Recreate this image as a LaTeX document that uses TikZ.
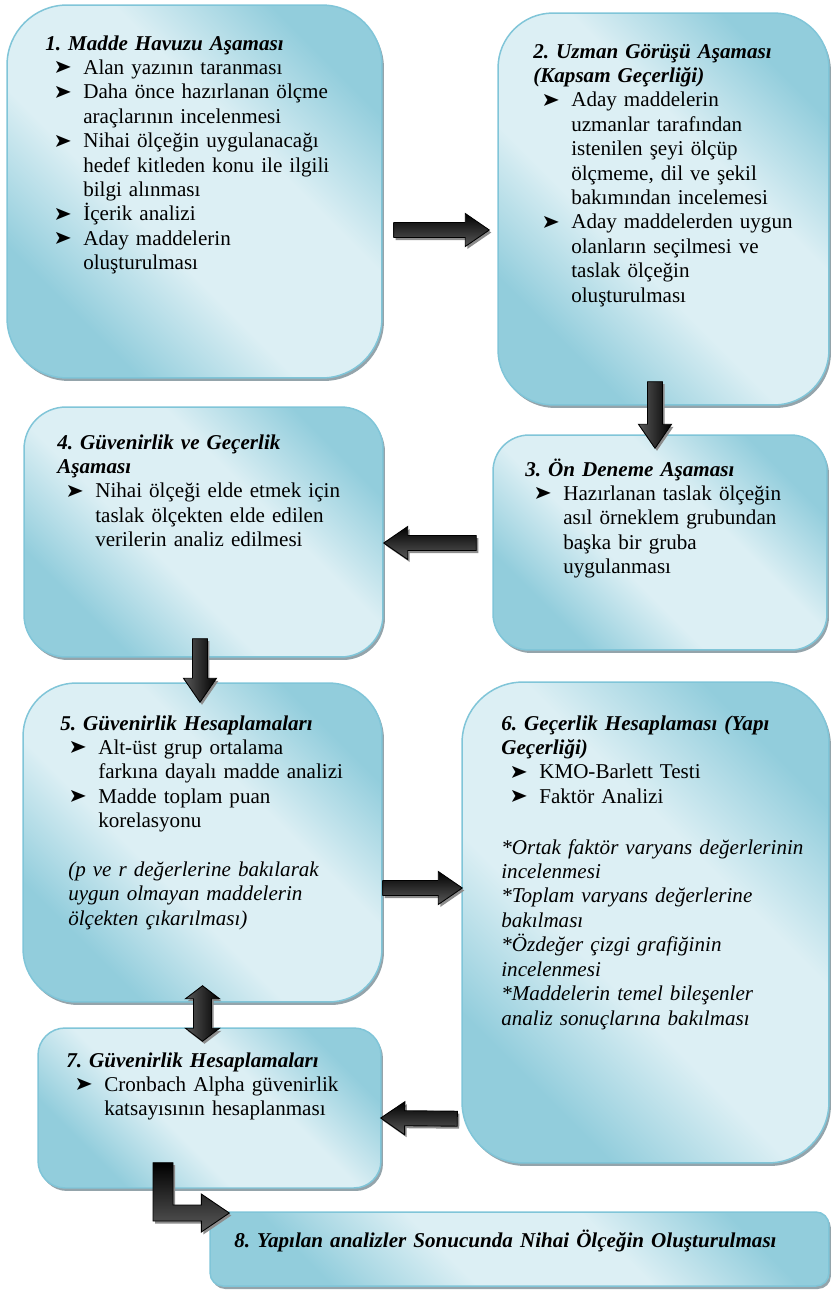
\documentclass[tikz,border=0pt]{standalone}
\usepackage{fontspec}
\setmainfont{Liberation Serif}
\usepackage{pifont}
\usepackage{xcolor}
\usepackage{tikz}
\usetikzlibrary{shadows}
\usetikzlibrary{calc}
\definecolor{box_dark}{RGB}{146,205,220}
\definecolor{box_light}{RGB}{220,239,244}
\definecolor{box_line}{RGB}{128,197,216}
\definecolor{shadow_gray}{RGB}{148,164,171}
\pgfdeclareverticalshading{stageshade}{100bp}{color(0bp)=(box_dark); color(27bp)=(box_dark);
  color(42bp)=(box_light); color(60bp)=(box_light); color(75bp)=(box_dark); color(100bp)=(box_dark)}
\frenchspacing
\newcommand{\itm}{\hspace*{5.7pt}\makebox[15.9pt][l]{\raisebox{0.3pt}{\fontsize{10}{10}\selectfont\ding{228}}}}
\newcommand{\cnt}{\hspace*{21.6pt}}
% straight block arrow: [shading angle]{start}{tip}
\newcommand{\fatarrow}[3][0]{%
  \coordinate (fa-s) at #2;
  \coordinate (fa-e) at #3;
  \coordinate (fa-h) at ($(fa-e)!0.48cm!(fa-s)$);
  \path[blockarrow, shading angle=#1]
    ($(fa-s)!0.15cm!90:(fa-e)$) -- ($(fa-h)!0.15cm!90:(fa-e)$)
    -- ($(fa-h)!0.33cm!90:(fa-e)$) -- (fa-e)
    -- ($(fa-h)!0.33cm!-90:(fa-e)$) -- ($(fa-h)!0.15cm!-90:(fa-e)$)
    -- ($(fa-s)!0.15cm!-90:(fa-e)$) -- cycle;
}
\tikzset{
  stage/.style={draw=box_line, line width=0.85pt, inner sep=0pt,
    shade, shading=stageshade, shading angle=-45,
    drop shadow={shadow xshift=0.04cm, shadow yshift=-0.06cm, fill=shadow_gray, opacity=1}},
  stagetext/.style={anchor=base west, inner sep=0pt, text width=7.2cm, align=left,
    font=\fontsize{12}{13.9}\selectfont},
  blockarrow/.style={draw=black, line width=0.5pt, top color=black, bottom color=black!65!white,
    drop shadow={shadow xshift=0.04cm, shadow yshift=-0.05cm, fill=black!45, opacity=1}},
}

\begin{document}
\begin{tikzpicture}[x=0.02cm, y=-0.02cm]
        \useasboundingbox (0,0) rectangle (833,1292);
        % Stage boxes
        \node[stage, rounded corners=1.2cm, minimum width=7.5cm, minimum height=7.46cm] (b1) at (194.5,191.5) {};
        \node[stage, rounded corners=1.1cm, minimum width=6.62cm, minimum height=7.84cm] (b2) at (663.5,209) {};
        \node[stage, rounded corners=0.72cm, minimum width=6.68cm, minimum height=4.3cm] (b3) at (660,542.5) {};
        \node[stage, rounded corners=0.84cm, minimum width=7.18cm, minimum height=5cm] (b4) at (203.5,532) {};
        \node[stage, rounded corners=1.06cm, minimum width=7.18cm, minimum height=6.38cm] (b5) at (202.5,842.5) {};
        \node[stage, rounded corners=1.22cm, minimum width=7.34cm, minimum height=9.62cm] (b6) at (645.5,922.5) {};
        \node[stage, rounded corners=0.54cm, minimum width=6.86cm, minimum height=3.2cm] (b7) at (209.5,1108) {};
        \node[stage, rounded corners=0.26cm, minimum width=12.38cm, minimum height=1.48cm] (b8) at (519.5,1249) {};
        % Stage texts
        \node[stagetext] (t1) at (45,50) {\textbf{\textit{1. Madde Havuzu Aşaması}}\\
          \itm Alan yazının taranması\\
          \itm Daha önce hazırlanan ölçme\\
          \cnt araçlarının incelenmesi\\
          \itm Nihai ölçeğin uygulanacağı\\
          \cnt hedef kitleden konu ile ilgili\\
          \cnt bilgi alınması\\
          \itm İçerik analizi\\
          \itm Aday maddelerin\\
          \cnt oluşturulması};
        \node[stagetext] (t2) at (533,58) {\textbf{\textit{2. Uzman Görüşü Aşaması}}\\
          \textbf{\textit{(Kapsam Geçerliği)}}\\
          \itm Aday maddelerin\\
          \cnt uzmanlar tarafından\\
          \cnt istenilen şeyi ölçüp\\
          \cnt ölçmeme, dil ve şekil\\
          \cnt bakımından incelemesi\\
          \itm Aday maddelerden uygun\\
          \cnt olanların seçilmesi ve\\
          \cnt taslak ölçeğin\\
          \cnt oluşturulması};
        \node[stagetext] (t3) at (525,476) {\textbf{\textit{3. Ön Deneme Aşaması}}\\
          \itm Hazırlanan taslak ölçeğin\\
          \cnt asıl örneklem grubundan\\
          \cnt başka bir gruba\\
          \cnt uygulanması};
        \node[stagetext] (t4) at (57,449) {\textbf{\textit{4. Güvenirlik ve Geçerlik}}\\
          \textbf{\textit{Aşaması}}\\
          \itm Nihai ölçeği elde etmek için\\
          \cnt taslak ölçekten elde edilen\\
          \cnt verilerin analiz edilmesi};
        \node[stagetext] (t5) at (60,730) {\textbf{\textit{5. Güvenirlik Hesaplamaları}}\\
          \itm Alt-üst grup ortalama\\
          \cnt farkına dayalı madde analizi\\
          \itm Madde toplam puan\\
          \cnt korelasyonu\\[13.9pt]
          \hspace*{4.5pt}\textit{(p ve r değerlerine bakılarak}\\
          \hspace*{4.5pt}\textit{uygun olmayan maddelerin}\\
          \hspace*{4.5pt}\textit{ölçekten çıkarılması)}};
        \node[stagetext] (t6) at (501,730) {\textbf{\textit{6. Geçerlik Hesaplaması (Yapı}}\\
          \textbf{\textit{Geçerliği)}}\\
          \itm KMO-Barlett Testi\\
          \itm Faktör Analizi\\[15pt]
          \textit{*Ortak faktör varyans değerlerinin}\\
          \textit{incelenmesi}\\
          \textit{*Toplam varyans değerlerine}\\
          \textit{bakılması}\\
          \textit{*Özdeğer çizgi grafiğinin}\\
          \textit{incelenmesi}\\
          \textit{*Maddelerin temel bileşenler}\\
          \textit{analiz sonuçlarına bakılması}};
        \node[stagetext] (t7) at (66,1067) {\textbf{\textit{7. Güvenirlik Hesaplamaları}}\\
          \itm Cronbach Alpha güvenirlik\\
          \cnt katsayısının hesaplanması};
        \node[stagetext, text width=12cm] (t8) at (234,1247) {\textbf{\textit{8. Yapılan analizler Sonucunda Nihai Ölçeğin Oluşturulması}}};
        % Arrows between stages
        \fatarrow{($(b1.east)+(11,38.5)$)}{($(b2.west)+(-8,21)$)}
        \fatarrow[-90]{($(b2.south)+(-8.5,-24)$)}{($(b3.north)+(-5,14)$)}
        \fatarrow{($(b3.west)+(-16,0.5)$)}{($(b4.east)+(0,11)$)}
        \fatarrow[-90]{($(b4.south)+(-3.5,-19)$)}{($(b5.north)+(-2.5,20)$)}
        \fatarrow{($(b5.east)+(0,45.5)$)}{($(b6.west)+(1,-34.5)$)}
        \fatarrow{($(b6.south west)+(-4,-45)$)}{($(b7.east)+(-1,10)$)}
        % Double arrow 5 <-> 7
        \coordinate (d1) at ($(b5.south)+(0,-17)$);
        \coordinate (d2) at ($(b7.north)+(-7,14)$);
        \path[blockarrow, shading angle=-90] (d1) -- ($(d1)+(17,13)$) -- ($(d1)+(9,13)$) -- ($(d2)+(9,-13)$)
          -- ($(d2)+(17,-13)$) -- (d2) -- ($(d2)+(-17,-13)$) -- ($(d2)+(-9,-13)$)
          -- ($(d1)+(-9,13)$) -- ($(d1)+(-17,13)$) -- cycle;
        % Elbow arrow 7 -> 8
        \coordinate (e1) at ($(b7.south)+(-46.5,-26)$);
        \coordinate (e2) at ($(b8.west)+(20,-36)$);
        \path[blockarrow] ($(e1)+(-10,0)$) -- ($(e1)+(10,0)$) |- ($(e2)+(-28,-8)$)
          -- ($(e2)+(-28,-19)$) -- (e2) -- ($(e2)+(-28,19)$) -- ($(e2)+(-28,8)$)
          -| ($(e1)+(-10,0)$) -- cycle;
\end{tikzpicture}
\end{document}
